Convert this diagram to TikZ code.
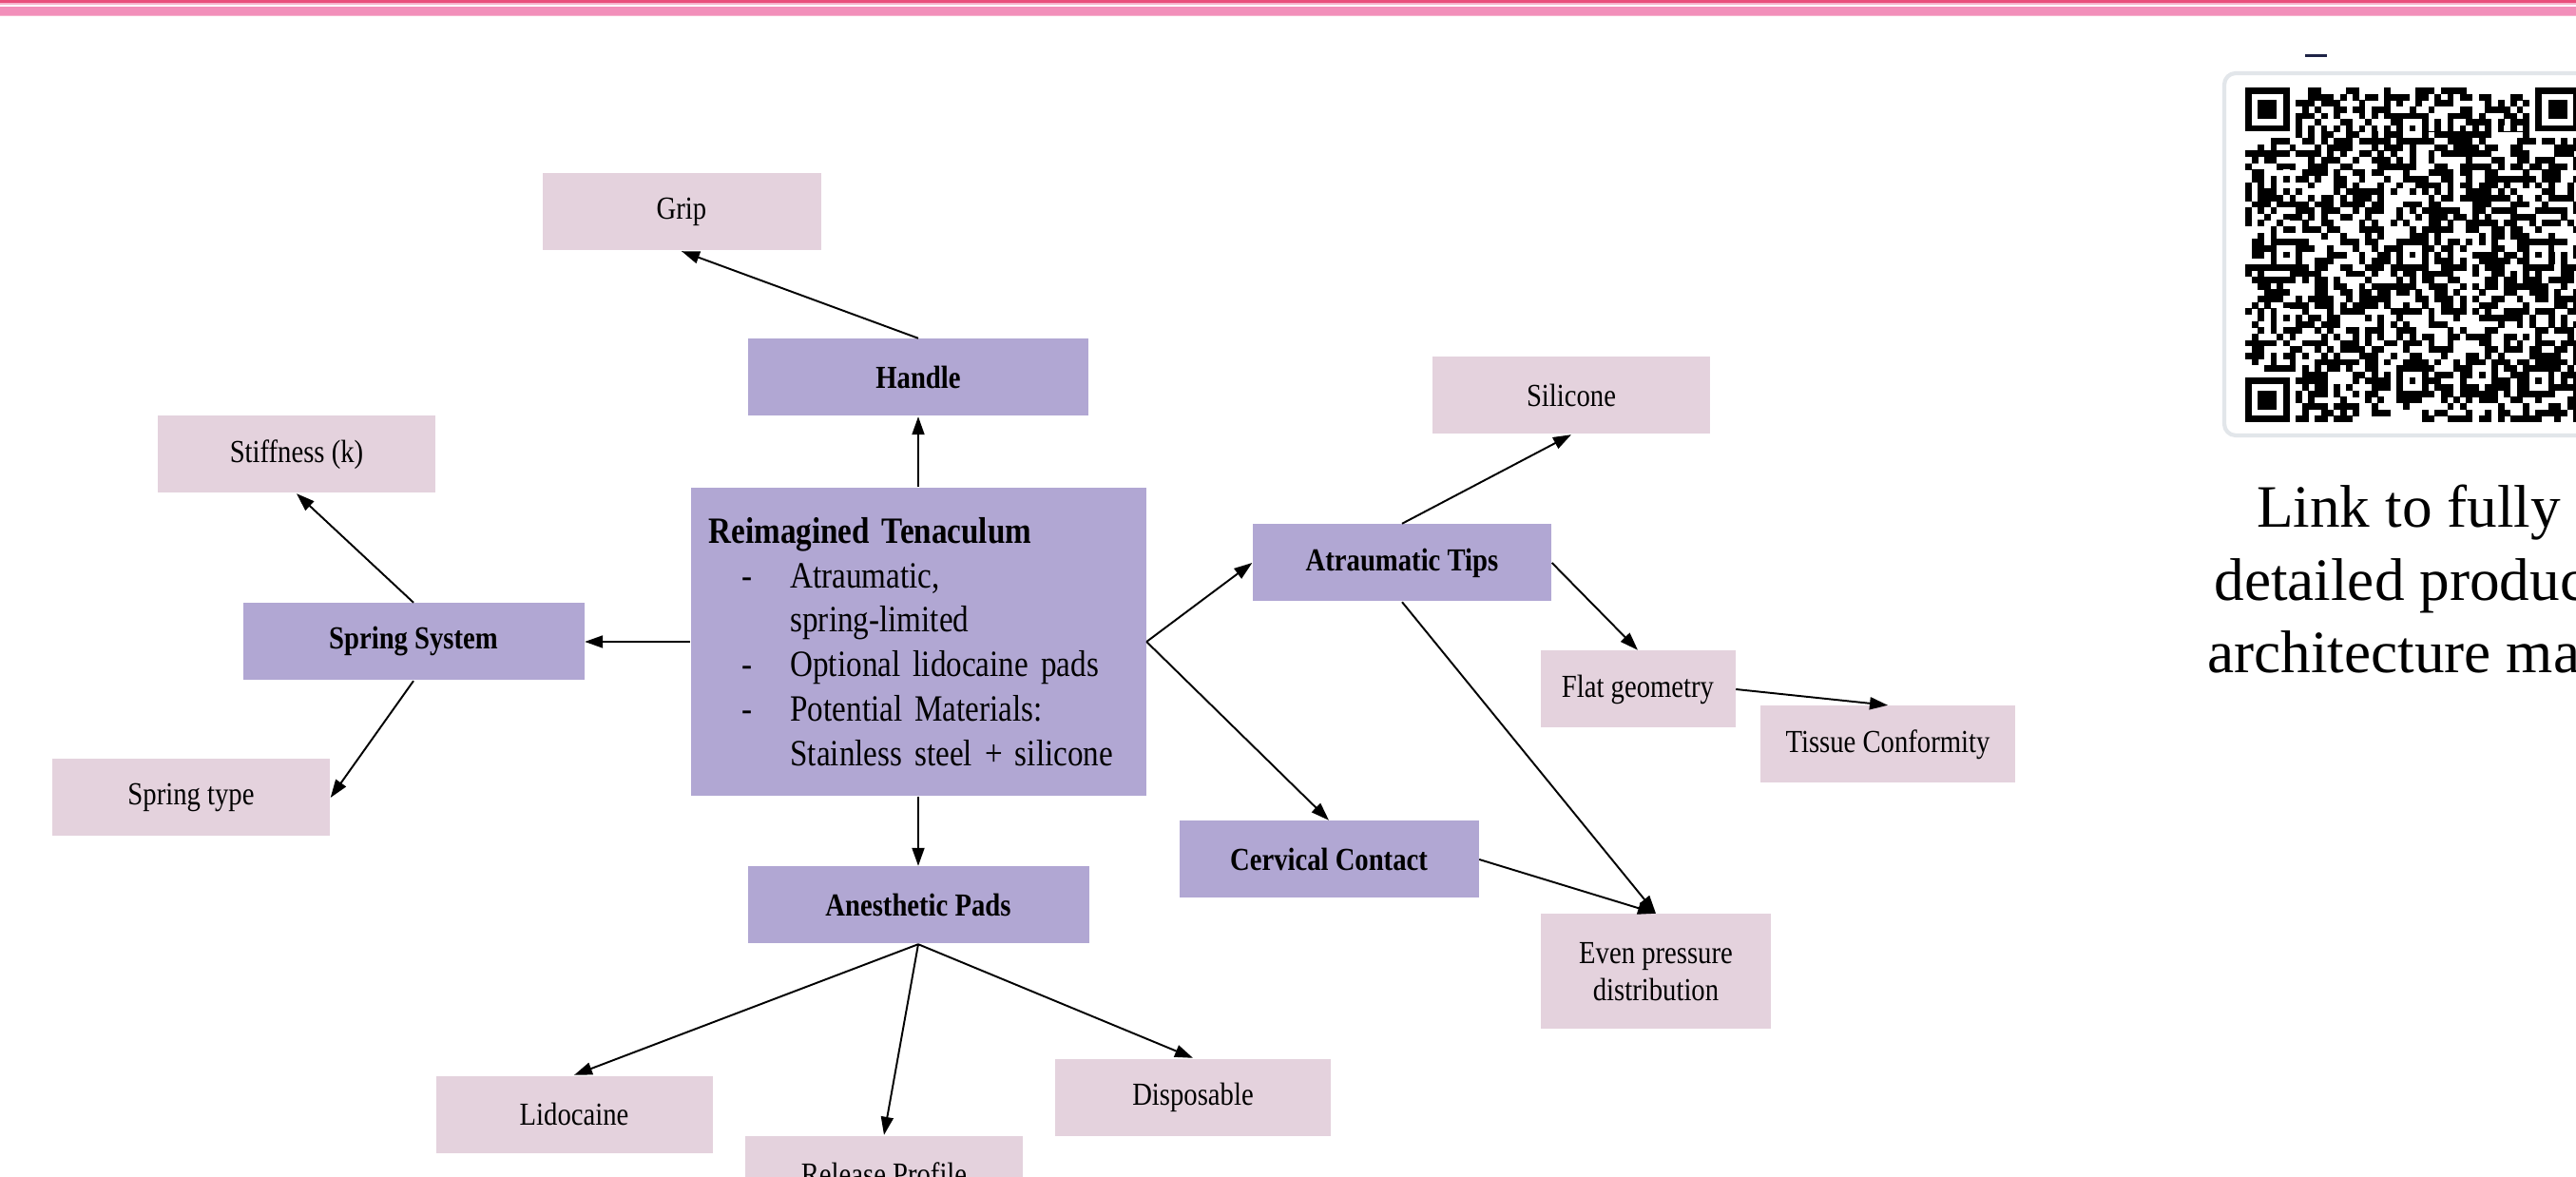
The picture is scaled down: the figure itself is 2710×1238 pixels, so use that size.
\documentclass[tikz,border=0pt]{standalone}
\usepackage{fontspec}
\setmainfont[FakeStretch=0.85]{Liberation Serif}
\newfontfamily\linkfont{Liberation Serif}
\usetikzlibrary{arrows.meta}

\definecolor{partcol}{RGB}{177,167,211}
\definecolor{leafcol}{RGB}{228,210,221}
\definecolor{banddark}{RGB}{233,78,123}
\definecolor{bandpale}{RGB}{246,178,204}
\definecolor{bandmid}{RGB}{242,143,186}
\definecolor{qrframe}{RGB}{226,230,234}
\definecolor{dashcol}{RGB}{30,35,70}

\newcommand{\dashitem}{\hspace*{3.5mm}\makebox[5.1mm][l]{-}}
\newcommand{\dashgap}{\hspace*{8.6mm}}

\tikzset{
  part/.style={fill=partcol, minimum height=8.1mm, inner sep=0pt,
    font=\fontsize{9.6}{11}\selectfont\bfseries},
  leaf/.style={fill=leafcol, minimum height=8.1mm, inner sep=0pt, align=center,
    font=\fontsize{9.6}{11}\selectfont},
  link/.style={-{Triangle[length=1.9mm,width=1.3mm]}, line width=0.55pt},
}

\begin{document}
\begin{tikzpicture}[x=0.1mm,y=-0.1mm]
    \useasboundingbox (0,0) rectangle (2710,1238);
    \fill[white] (0,0) rectangle (2710,1238);

    \fill[banddark] (0,0) rectangle (2710,3.5);
    \fill[bandpale] (0,3.5) rectangle (2710,5);
    \fill[bandmid] (0,7.5) rectangle (2710,16);
    \fill[bandpale] (0,16) rectangle (2710,17);

    \node [part, minimum width=47.9mm, minimum height=32.4mm, text width=44.1mm,
      inner xsep=1.9mm, align=left, font=\fontsize{11.1}{13.3}\selectfont] (core) at (966,675)
      {\textbf{Reimagined Tenaculum}\\
       \dashitem Atraumatic,\\
       \dashgap spring-limited\\
       \dashitem Optional lidocaine pads\\
       \dashitem Potential Materials:\\
       \dashgap Stainless steel + silicone};

    \node [part, minimum width=35.8mm] (handle) at (966,397) {Handle};
    \node [part, minimum width=35.9mm] (spring) at (435,675) {Spring System};
    \node [part, minimum width=35.9mm] (pads) at (966,952) {Anesthetic Pads};
    \node [part, minimum width=31.4mm] (tips) at (1475,592) {Atraumatic Tips};
    \node [part, minimum width=31.5mm] (cervical) at (1398,904) {Cervical Contact};

    \node [leaf, minimum width=29.3mm] (grip) at (717,223) {Grip};
    \node [leaf, minimum width=29.2mm] (stiff) at (312,478) {Stiffness (k)};
    \node [leaf, minimum width=29.2mm] (springtype) at (201,839) {Spring type};
    \node [leaf, minimum width=29.1mm] (lido) at (604,1172) {Lidocaine};
    \node [leaf, minimum width=29.2mm] (release) at (930,1235) {Release Profile};
    \node [leaf, minimum width=29.0mm] (disp) at (1255,1154) {Disposable};
    \node [leaf, minimum width=29.2mm] (silicone) at (1653,416) {Silicone};
    \node [leaf, minimum width=20.5mm] (flat) at (1723,725) {Flat geometry};
    \node [leaf, minimum width=26.8mm] (tissue) at (1986,783) {Tissue Conformity};
    \node [leaf, minimum width=24.2mm, minimum height=12.1mm] (even) at (1742,1022) {Even pressure\\distribution};

    \draw [link] (core.north) -- (handle.south);
    \draw [link] (handle.north) -- (grip.south);
    \draw [link] (core.west) -- (spring.east);
    \draw [link] (spring.north) -- (stiff.south);
    \draw [link] (spring.south) -- (springtype.east);
    \draw [link] (core.south) -- (pads.north);
    \draw [link] (pads.south) -- (lido.north);
    \draw [link] (pads.south) -- (release.north);
    \draw [link] (pads.south) -- (disp.north);
    \draw [link] (core.east) -- (tips.west);
    \draw [link] (core.east) -- (cervical.north);
    \draw [link] (tips.north) -- (silicone.south);
    \draw [link] (tips.east) -- (flat.north);
    \draw [link] (tips.south) -- (even.north);
    \draw [link] (cervical.east) -- (even.north);
    \draw [link] (flat.east) -- (tissue.north);

    \draw [dashcol, line width=0.3mm] (2425,59) -- (2448,59);
    \draw [qrframe, line width=1.2pt, rounded corners=1.2mm] (2340,77) rectangle (2760,458);
    \pgfmathsetseed{2718}
    \foreach \i in {0,...,52}{
      \foreach \j in {0,...,52}{
        \pgfmathtruncatemacro{\qrskip}{((\i<8)&&(\j<8))||((\i>44)&&(\j<8))||((\i<8)&&(\j>44))}
        \ifnum\qrskip=0
          \pgfmathrandominteger{\qrbit}{0}{1}
          \ifnum\qrbit=1
            \fill (2362+\i*6.64,92+\j*6.64) rectangle ++(6.9,6.9);
          \fi
        \fi
      }
    }
    \foreach \k in {8,...,44}{
      \pgfmathtruncatemacro{\qrodd}{mod(\k,2)}
      \ifnum\qrodd=0
        \fill (2362+\k*6.64,92+6*6.64) rectangle ++(6.9,6.9);
        \fill (2362+6*6.64,92+\k*6.64) rectangle ++(6.9,6.9);
      \else
        \fill[white] (2362+\k*6.64,92+6*6.64) rectangle ++(6.64,6.64);
        \fill[white] (2362+6*6.64,92+\k*6.64) rectangle ++(6.64,6.64);
      \fi
    }
    \foreach \fx/\fy in {0/0, 46/0, 0/46}{
      \fill (2362+\fx*6.64,92+\fy*6.64) rectangle ++(46.48,46.48);
      \fill[white] (2362+\fx*6.64+6.64,92+\fy*6.64+6.64) rectangle ++(33.2,33.2);
      \fill (2362+\fx*6.64+13.28,92+\fy*6.64+13.28) rectangle ++(19.92,19.92);
    }
    \foreach \ax/\ay in {6/26, 26/6, 26/26, 26/46, 46/26, 46/46}{
      \fill (2362+\ax*6.64-13.28,92+\ay*6.64-13.28) rectangle ++(33.2,33.2);
      \fill[white] (2362+\ax*6.64-6.64,92+\ay*6.64-6.64) rectangle ++(19.92,19.92);
      \fill (2362+\ax*6.64,92+\ay*6.64) rectangle ++(6.64,6.64);
    }

    \node [anchor=base, font=\linkfont\fontsize{18}{21.8}\selectfont] (linkA) at (2534,555) {Link to fully};
    \node [anchor=base, font=\linkfont\fontsize{18}{21.8}\selectfont] (linkB) at (2534,632) {detailed product};
    \node [anchor=base, font=\linkfont\fontsize{18}{21.8}\selectfont] (linkC) at (2534,708) {architecture map};
\end{tikzpicture}
\end{document}
